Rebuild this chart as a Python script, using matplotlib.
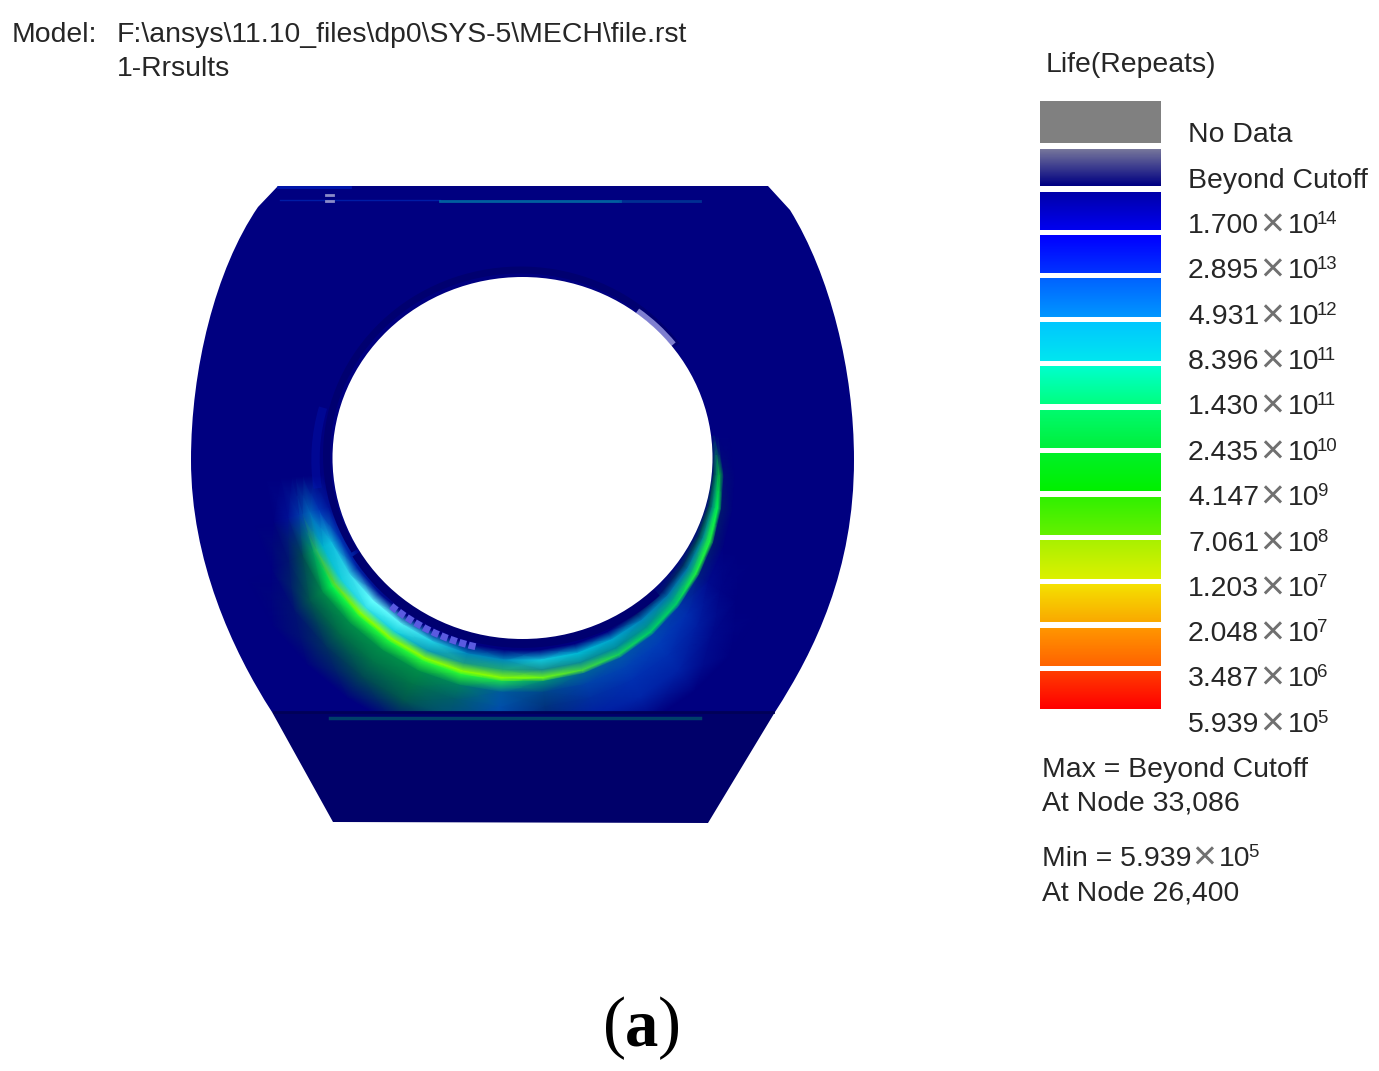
import numpy as np
from matplotlib import pyplot as plt
from matplotlib.colors import LinearSegmentedColormap
from matplotlib.patches import Polygon, Ellipse, Arc, PathPatch
from matplotlib.path import Path

plt.rcParams['font.family'] = ['Liberation Sans', 'DejaVu Sans']

W = 1379
H = 1071
ink = '#262626'

# legend
swatch_top = [101, 149, 192, 235, 278, 322, 366, 410, 453, 497, 540, 584, 628, 671]
swatch_bot = [143, 186, 230, 273, 317, 361, 404, 448, 491, 535, 579, 622, 666, 709]
swatch_hi = [(128,128,128), (118,118,155), (0,0,170), (0,0,255), (0,100,255), (0,200,255), (0,255,205),
             (0,250,110), (0,240,40), (50,240,0), (170,240,0), (245,225,0), (255,150,0), (255,60,0)]
swatch_lo = [(128,128,128), (0,0,130), (0,0,240), (0,50,255), (0,150,255), (0,230,240), (0,255,130),
             (0,240,60), (0,240,0), (100,240,0), (220,240,0), (250,170,0), (255,100,0), (255,0,0)]
mantissa = ['1.700', '2.895', '4.931', '8.396', '1.430', '2.435', '4.147', '7.061', '1.203', '2.048', '3.487', '5.939']
exponent = ['14', '13', '12', '11', '11', '10', '9', '8', '7', '7', '6', '5']
label_y = [233, 278, 324, 369, 414, 460, 505, 551, 596, 641, 686, 732]

# part outline in picture pixels, with bezier control points down the flanks
body_verts = [(278, 186), (768, 186), (790, 210),
              (830, 275), (854, 370), (854, 460),
              (854, 570), (815, 650), (775, 712),
              (272, 712),
              (232, 650), (191, 560), (191, 460),
              (191, 370), (215, 270), (258, 207),
              (278, 186)]
body_codes = [Path.MOVETO, Path.LINETO, Path.LINETO,
              Path.CURVE4, Path.CURVE4, Path.CURVE4,
              Path.CURVE4, Path.CURVE4, Path.CURVE4,
              Path.LINETO,
              Path.CURVE4, Path.CURVE4, Path.CURVE4,
              Path.CURVE4, Path.CURVE4, Path.CURVE4,
              Path.LINETO]
base_x = [272, 775, 708, 333]
base_y = [712, 712, 823, 822]

# damage field round the bore: angle from bottom of bore, positive to the right
angles = [-85, -75, -65, -55, -45, -35, -25, -15, -5, 5, 15, 25, 35, 45, 55, 65, 75, 85, 97]
arc_outer = [1.20, 1.20, 1.20, 1.21, 1.21, 1.215, 1.22, 1.22, 1.22, 1.22, 1.215, 1.20, 1.175, 1.145, 1.115, 1.09, 1.065, 1.045, 1.02]
inner_q = [0, 0.3, 0.55, 0.8, 1.0]
outer_d = [0.02, 0.08, 0.16, 0.26, 0.40]
green_field = [
    [0]*19,
    [0, 0, 0, 0, 0, 0, 0, 0, 0, 0, 0, 0, .1, .1, .2, .3, .3, .3, 0],
    [0, 0, .2, .3, .35, .35, .4, .5, .55, .55, .5, .5, .5, .6, .7, .7, .6, .5, 0],
    [0, .2, .7, .8, .8, .82, .85, .85, .85, .85, .8, .75, .72, .75, .78, .8, .75, .6, 0],
    [0, .25, .85, .95, 1, 1, 1, 1, 1, .95, .9, .8, .75, .75, .8, .8, .75, .55, 0],
    [0, .1, .6, .75, .8, .8, .82, .82, .8, .62, .5, .35, .2, .1, .1, .1, .1, .05, 0],
    [0, 0, .3, .5, .52, .52, .52, .52, .45, .3, .2, .1, 0, 0, 0, 0, 0, 0, 0],
    [0, 0, .1, .35, .42, .45, .45, .42, .3, .2, .1, 0, 0, 0, 0, 0, 0, 0, 0],
    [0, 0, 0, .08, .2, .3, .35, .35, .2, .12, 0, 0, 0, 0, 0, 0, 0, 0, 0],
    [0]*19,
]
blue_field = [
    [0]*19,
    [0, .2, .4, .3, .15, 0, 0, 0, 0, 0, 0, 0, 0, 0, 0, 0, 0, 0, 0],
    [0, .4, .75, .85, 1, .95, .8, .55, .55, .75, .7, .65, .55, .45, .4, .3, .2, .1, 0],
    [0, .5, .65, .75, .85, .75, .55, .3, .25, .35, .35, .35, .3, .25, .2, .1, .1, 0, 0],
    [0, .4, .2, .1, 0, 0, 0, 0, 0, 0, .1, .1, .1, .1, 0, 0, 0, 0, 0],
    [0, .35, .1, 0, 0, 0, 0, 0, .1, .2, .35, .42, .42, .35, .1, 0, 0, 0, 0],
    [0, .15, 0, 0, 0, 0, 0, .1, .38, .25, .38, .42, .42, .35, .1, 0, 0, 0, 0],
    [0, 0, 0, 0, 0, 0, 0, .15, .42, .15, .3, .36, .36, .25, .05, 0, 0, 0, 0],
    [0, 0, 0, 0, 0, 0, 0, .2, .38, .1, .25, .3, .28, .1, 0, 0, 0, 0, 0],
    [0]*19,
]

bore_x = 522.5
bore_y = 458
bore_rx = 190
bore_ry = 181

fig = plt.figure(figsize=(W/100.0, H/100.0), dpi=100)
ax = fig.add_axes([0, 0, 1, 1])
ax.set_xlim(0, W)
ax.set_ylim(H, 0)
ax.axis('off')

navy = np.array([0, 0, 128])/255.0
body = PathPatch(Path(body_verts, body_codes), facecolor=navy, edgecolor='none', zorder=1)
ax.add_patch(body)
ax.add_patch(Polygon(np.column_stack([base_x, base_y]), closed=True, facecolor='#00006a', edgecolor='none', zorder=4))

# field on a polar mesh, flattened over the navy so the triangles do not show seams
t = np.radians(angles)
outer = np.array(arc_outer)
s = np.array([1 + (outer - 1)*q for q in inner_q] + [outer + d for d in outer_d])
mesh_x = bore_x + bore_rx*s*np.sin(t)
mesh_y = bore_y + bore_ry*s*np.cos(t)

green_cmap = LinearSegmentedColormap.from_list('g', [(0, (0, .5, .1, 0)), (.4, (0, .55, .2, .7)),
                                                      (.75, (0, .95, .3, 1)), (1, (.55, 1, 0, 1))])
blue_cmap = LinearSegmentedColormap.from_list('b', [(0, (0, .2, .8, 0)), (.4, (0, .3, .8, .7)),
                                                     (.7, (0, .75, .9, .9)), (1, (.4, 1, 1, 1))])
rgb = np.ones(mesh_x.shape + (3,))*navy
for cmap, field in [(green_cmap, green_field), (blue_cmap, blue_field)]:
    layer = cmap(np.array(field, dtype=float))
    rgb = rgb*(1 - layer[..., 3:]) + layer[..., :3]*layer[..., 3:]
mesh = ax.pcolormesh(mesh_x, mesh_y, rgb, shading='gouraud', zorder=2)
mesh.set_clip_path(body)

# bore and its rim
ax.add_patch(Arc((bore_x - 2, bore_y - 3), 2*bore_rx + 8, 2*bore_ry + 8, theta1=150, theta2=325, color='#000070', lw=5, zorder=3))
ax.add_patch(Arc((bore_x, bore_y), 2*bore_rx + 8, 2*bore_ry + 8, theta1=45, theta2=150, color='#000070', lw=7, zorder=3))
ax.add_patch(Arc((bore_x - 4, bore_y + 2), 2*bore_rx + 26, 2*bore_ry + 26, theta1=172, theta2=195, color='#0018c0', lw=6, alpha=.3, zorder=3))
ax.add_patch(Arc((bore_x, bore_y), 2*bore_rx + 5, 2*bore_ry + 5, theta1=308, theta2=323, color='#a0a0e8', lw=4, alpha=.8, zorder=5))
ax.add_patch(Arc((bore_x, bore_y), 2*bore_rx + 26, 2*bore_ry + 26, theta1=104, theta2=132, color='#5a5ae0', lw=5, ls=(0, (1, .4)), zorder=5))
ax.add_patch(Ellipse((bore_x, bore_y), 2*bore_rx, 2*bore_ry, facecolor='white', edgecolor='none', zorder=6))

# thin marks on the faces
ax.plot([280, 440], [200, 200], color='#0030c0', lw=1, alpha=.6, zorder=5)
ax.plot([440, 620], [201, 201], color='#0078a8', lw=2, alpha=.8, zorder=5)
ax.plot([620, 700], [201, 201], color='#0050a0', lw=2, alpha=.6, zorder=5)
ax.plot([278, 350], [187, 187], color='#0020c0', lw=2, alpha=.7, zorder=5)
ax.plot([326, 333], [195, 195], color='#8c8cc8', lw=2, zorder=5)
ax.plot([326, 333], [201, 201], color='#8c8cc8', lw=2, zorder=5)
ax.plot([274, 773], [712, 712], color='#000058', lw=2, zorder=5)
ax.plot([330, 700], [718, 718], color='#006a6a', lw=2.5, alpha=.6, zorder=5)

# legend swatches
for i in range(len(swatch_top)):
    grad = np.linspace(swatch_hi[i], swatch_lo[i], 32)[:, None, :].astype(np.uint8)
    ax.imshow(grad, extent=(1040, 1161, swatch_bot[i], swatch_top[i]), aspect='auto',
              interpolation='bilinear', zorder=2)
ax.set_xlim(0, W)
ax.set_ylim(H, 0)

fs = 20.4
ax.text(12, 42, 'Model:', fontsize=fs, color=ink)
ax.text(117, 42, 'F:\\ansys\\11.10_files\\dp0\\SYS-5\\MECH\\file.rst', fontsize=fs, color=ink)
ax.text(117, 76, '1-Rrsults', fontsize=fs, color=ink)
ax.text(1046, 72, 'Life(Repeats)', fontsize=fs, color=ink)
ax.text(1188, 142, 'No Data', fontsize=fs, color=ink)
ax.text(1188, 188, 'Beyond Cutoff', fontsize=fs, color=ink)


def sci_label(x, y, mant, exp):
    ax.text(x, y, mant, fontsize=fs, color=ink)
    ax.text(x + 72, y + 3, '\u00d7', fontsize=fs + 9, color='#707070')
    ax.text(x + 100, y, '10', fontsize=fs, color=ink)
    ax.text(x + 129, y - 9, exp, fontsize=fs - 7, color=ink)


for i in range(len(mantissa)):
    sci_label(1188, label_y[i], mantissa[i], exponent[i])

ax.text(1042, 777, 'Max = Beyond Cutoff', fontsize=fs, color=ink)
ax.text(1042, 811, 'At Node 33,086', fontsize=fs, color=ink)
ax.text(1042, 866, 'Min = 5.939', fontsize=fs, color=ink)
ax.text(1192, 869, '\u00d7', fontsize=fs + 9, color='#707070')
ax.text(1219, 866, '10', fontsize=fs, color=ink)
ax.text(1248, 857, '5', fontsize=fs - 7, color=ink)
ax.text(1042, 900, 'At Node 26,400', fontsize=fs, color=ink)

ax.text(603, 1045, '(', fontsize=50, color='black', family='Liberation Serif')
ax.text(625, 1045, 'a', fontsize=48, color='black', family='Liberation Serif', fontweight='bold')
ax.text(658, 1045, ')', fontsize=50, color='black', family='Liberation Serif')

plt.savefig('out.png', dpi=100)
